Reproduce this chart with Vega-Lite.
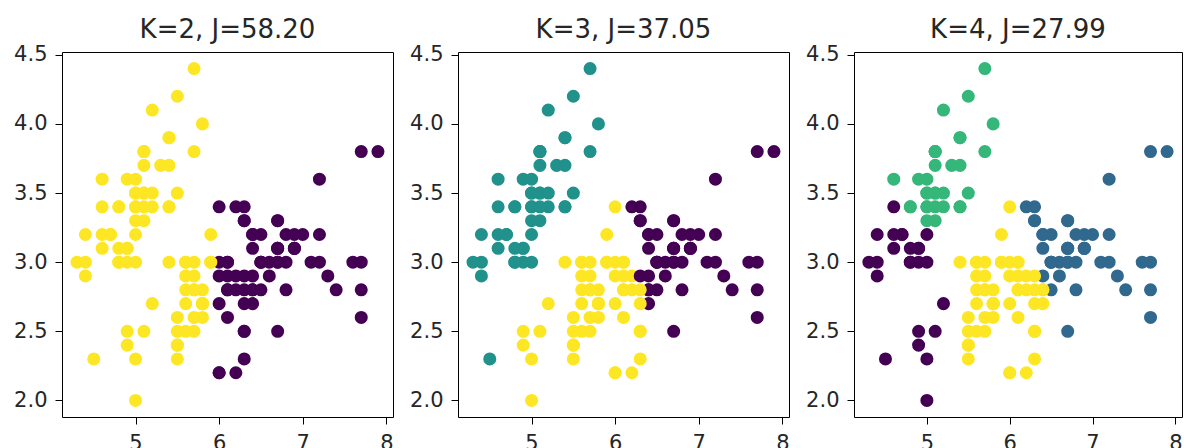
{
  "$schema": "https://vega.github.io/schema/vega-lite/v6.json",
  "padding": {"left": 13, "top": 16, "right": 0, "bottom": 0},
  "bounds": "flush",
  "spacing": 65,
  "datasets": {
    "iris": [
      {"sl":5.1,"sw":3.5,"k2":1,"k3":1,"k4":2},
      {"sl":4.9,"sw":3.0,"k2":1,"k3":1,"k4":0},
      {"sl":4.7,"sw":3.2,"k2":1,"k3":1,"k4":0},
      {"sl":4.6,"sw":3.1,"k2":1,"k3":1,"k4":0},
      {"sl":5.0,"sw":3.6,"k2":1,"k3":1,"k4":2},
      {"sl":5.4,"sw":3.9,"k2":1,"k3":1,"k4":2},
      {"sl":4.6,"sw":3.4,"k2":1,"k3":1,"k4":0},
      {"sl":5.0,"sw":3.4,"k2":1,"k3":1,"k4":2},
      {"sl":4.4,"sw":2.9,"k2":1,"k3":1,"k4":0},
      {"sl":4.9,"sw":3.1,"k2":1,"k3":1,"k4":0},
      {"sl":5.4,"sw":3.7,"k2":1,"k3":1,"k4":2},
      {"sl":4.8,"sw":3.4,"k2":1,"k3":1,"k4":2},
      {"sl":4.8,"sw":3.0,"k2":1,"k3":1,"k4":0},
      {"sl":4.3,"sw":3.0,"k2":1,"k3":1,"k4":0},
      {"sl":5.8,"sw":4.0,"k2":1,"k3":1,"k4":2},
      {"sl":5.7,"sw":4.4,"k2":1,"k3":1,"k4":2},
      {"sl":5.4,"sw":3.9,"k2":1,"k3":1,"k4":2},
      {"sl":5.1,"sw":3.5,"k2":1,"k3":1,"k4":2},
      {"sl":5.7,"sw":3.8,"k2":1,"k3":1,"k4":2},
      {"sl":5.1,"sw":3.8,"k2":1,"k3":1,"k4":2},
      {"sl":5.4,"sw":3.4,"k2":1,"k3":1,"k4":2},
      {"sl":5.1,"sw":3.7,"k2":1,"k3":1,"k4":2},
      {"sl":4.6,"sw":3.6,"k2":1,"k3":1,"k4":2},
      {"sl":5.1,"sw":3.3,"k2":1,"k3":1,"k4":2},
      {"sl":4.8,"sw":3.4,"k2":1,"k3":1,"k4":2},
      {"sl":5.0,"sw":3.0,"k2":1,"k3":1,"k4":0},
      {"sl":5.0,"sw":3.4,"k2":1,"k3":1,"k4":2},
      {"sl":5.2,"sw":3.5,"k2":1,"k3":1,"k4":2},
      {"sl":5.2,"sw":3.4,"k2":1,"k3":1,"k4":2},
      {"sl":4.7,"sw":3.2,"k2":1,"k3":1,"k4":0},
      {"sl":4.8,"sw":3.1,"k2":1,"k3":1,"k4":0},
      {"sl":5.4,"sw":3.4,"k2":1,"k3":1,"k4":2},
      {"sl":5.2,"sw":4.1,"k2":1,"k3":1,"k4":2},
      {"sl":5.5,"sw":4.2,"k2":1,"k3":1,"k4":2},
      {"sl":4.9,"sw":3.1,"k2":1,"k3":1,"k4":0},
      {"sl":5.0,"sw":3.2,"k2":1,"k3":1,"k4":0},
      {"sl":5.5,"sw":3.5,"k2":1,"k3":1,"k4":2},
      {"sl":4.9,"sw":3.6,"k2":1,"k3":1,"k4":2},
      {"sl":4.4,"sw":3.0,"k2":1,"k3":1,"k4":0},
      {"sl":5.1,"sw":3.4,"k2":1,"k3":1,"k4":2},
      {"sl":5.0,"sw":3.5,"k2":1,"k3":1,"k4":2},
      {"sl":4.5,"sw":2.3,"k2":1,"k3":1,"k4":0},
      {"sl":4.4,"sw":3.2,"k2":1,"k3":1,"k4":0},
      {"sl":5.0,"sw":3.5,"k2":1,"k3":1,"k4":2},
      {"sl":5.1,"sw":3.8,"k2":1,"k3":1,"k4":2},
      {"sl":4.8,"sw":3.0,"k2":1,"k3":1,"k4":0},
      {"sl":5.1,"sw":3.8,"k2":1,"k3":1,"k4":2},
      {"sl":4.6,"sw":3.2,"k2":1,"k3":1,"k4":0},
      {"sl":5.3,"sw":3.7,"k2":1,"k3":1,"k4":2},
      {"sl":5.0,"sw":3.3,"k2":1,"k3":1,"k4":2},
      {"sl":7.0,"sw":3.2,"k2":0,"k3":0,"k4":1},
      {"sl":6.4,"sw":3.2,"k2":0,"k3":0,"k4":1},
      {"sl":6.9,"sw":3.1,"k2":0,"k3":0,"k4":1},
      {"sl":5.5,"sw":2.3,"k2":1,"k3":2,"k4":3},
      {"sl":6.5,"sw":2.8,"k2":0,"k3":0,"k4":1},
      {"sl":5.7,"sw":2.8,"k2":1,"k3":2,"k4":3},
      {"sl":6.3,"sw":3.3,"k2":0,"k3":0,"k4":1},
      {"sl":4.9,"sw":2.4,"k2":1,"k3":2,"k4":0},
      {"sl":6.6,"sw":2.9,"k2":0,"k3":0,"k4":1},
      {"sl":5.2,"sw":2.7,"k2":1,"k3":2,"k4":0},
      {"sl":5.0,"sw":2.0,"k2":1,"k3":2,"k4":0},
      {"sl":5.9,"sw":3.0,"k2":1,"k3":2,"k4":3},
      {"sl":6.0,"sw":2.2,"k2":0,"k3":2,"k4":3},
      {"sl":6.1,"sw":2.9,"k2":0,"k3":2,"k4":3},
      {"sl":5.6,"sw":2.9,"k2":1,"k3":2,"k4":3},
      {"sl":6.7,"sw":3.1,"k2":0,"k3":0,"k4":1},
      {"sl":5.6,"sw":3.0,"k2":1,"k3":2,"k4":3},
      {"sl":5.8,"sw":2.7,"k2":1,"k3":2,"k4":3},
      {"sl":6.2,"sw":2.2,"k2":0,"k3":2,"k4":3},
      {"sl":5.6,"sw":2.5,"k2":1,"k3":2,"k4":3},
      {"sl":5.9,"sw":3.2,"k2":1,"k3":2,"k4":3},
      {"sl":6.1,"sw":2.8,"k2":0,"k3":2,"k4":3},
      {"sl":6.3,"sw":2.5,"k2":0,"k3":2,"k4":3},
      {"sl":6.1,"sw":2.8,"k2":0,"k3":2,"k4":3},
      {"sl":6.4,"sw":2.9,"k2":0,"k3":0,"k4":1},
      {"sl":6.6,"sw":3.0,"k2":0,"k3":0,"k4":1},
      {"sl":6.8,"sw":2.8,"k2":0,"k3":0,"k4":1},
      {"sl":6.7,"sw":3.0,"k2":0,"k3":0,"k4":1},
      {"sl":6.0,"sw":2.9,"k2":0,"k3":2,"k4":3},
      {"sl":5.7,"sw":2.6,"k2":1,"k3":2,"k4":3},
      {"sl":5.5,"sw":2.4,"k2":1,"k3":2,"k4":3},
      {"sl":5.5,"sw":2.4,"k2":1,"k3":2,"k4":3},
      {"sl":5.8,"sw":2.7,"k2":1,"k3":2,"k4":3},
      {"sl":6.0,"sw":2.7,"k2":0,"k3":2,"k4":3},
      {"sl":5.4,"sw":3.0,"k2":1,"k3":2,"k4":3},
      {"sl":6.0,"sw":3.4,"k2":0,"k3":2,"k4":3},
      {"sl":6.7,"sw":3.1,"k2":0,"k3":0,"k4":1},
      {"sl":6.3,"sw":2.3,"k2":0,"k3":2,"k4":3},
      {"sl":5.6,"sw":3.0,"k2":1,"k3":2,"k4":3},
      {"sl":5.5,"sw":2.5,"k2":1,"k3":2,"k4":3},
      {"sl":5.5,"sw":2.6,"k2":1,"k3":2,"k4":3},
      {"sl":6.1,"sw":3.0,"k2":0,"k3":2,"k4":3},
      {"sl":5.8,"sw":2.6,"k2":1,"k3":2,"k4":3},
      {"sl":5.0,"sw":2.3,"k2":1,"k3":2,"k4":0},
      {"sl":5.6,"sw":2.7,"k2":1,"k3":2,"k4":3},
      {"sl":5.7,"sw":3.0,"k2":1,"k3":2,"k4":3},
      {"sl":5.7,"sw":2.9,"k2":1,"k3":2,"k4":3},
      {"sl":6.2,"sw":2.9,"k2":0,"k3":2,"k4":3},
      {"sl":5.1,"sw":2.5,"k2":1,"k3":2,"k4":0},
      {"sl":5.7,"sw":2.8,"k2":1,"k3":2,"k4":3},
      {"sl":6.3,"sw":3.3,"k2":0,"k3":0,"k4":1},
      {"sl":5.8,"sw":2.7,"k2":1,"k3":2,"k4":3},
      {"sl":7.1,"sw":3.0,"k2":0,"k3":0,"k4":1},
      {"sl":6.3,"sw":2.9,"k2":0,"k3":0,"k4":3},
      {"sl":6.5,"sw":3.0,"k2":0,"k3":0,"k4":1},
      {"sl":7.6,"sw":3.0,"k2":0,"k3":0,"k4":1},
      {"sl":4.9,"sw":2.5,"k2":1,"k3":2,"k4":0},
      {"sl":7.3,"sw":2.9,"k2":0,"k3":0,"k4":1},
      {"sl":6.7,"sw":2.5,"k2":0,"k3":0,"k4":1},
      {"sl":7.2,"sw":3.6,"k2":0,"k3":0,"k4":1},
      {"sl":6.5,"sw":3.2,"k2":0,"k3":0,"k4":1},
      {"sl":6.4,"sw":2.7,"k2":0,"k3":0,"k4":3},
      {"sl":6.8,"sw":3.0,"k2":0,"k3":0,"k4":1},
      {"sl":5.7,"sw":2.5,"k2":1,"k3":2,"k4":3},
      {"sl":5.8,"sw":2.8,"k2":1,"k3":2,"k4":3},
      {"sl":6.4,"sw":3.2,"k2":0,"k3":0,"k4":1},
      {"sl":6.5,"sw":3.0,"k2":0,"k3":0,"k4":1},
      {"sl":7.7,"sw":3.8,"k2":0,"k3":0,"k4":1},
      {"sl":7.7,"sw":2.6,"k2":0,"k3":0,"k4":1},
      {"sl":6.0,"sw":2.2,"k2":0,"k3":2,"k4":3},
      {"sl":6.9,"sw":3.2,"k2":0,"k3":0,"k4":1},
      {"sl":5.6,"sw":2.8,"k2":1,"k3":2,"k4":3},
      {"sl":7.7,"sw":2.8,"k2":0,"k3":0,"k4":1},
      {"sl":6.3,"sw":2.7,"k2":0,"k3":2,"k4":3},
      {"sl":6.7,"sw":3.3,"k2":0,"k3":0,"k4":1},
      {"sl":7.2,"sw":3.2,"k2":0,"k3":0,"k4":1},
      {"sl":6.2,"sw":2.8,"k2":0,"k3":2,"k4":3},
      {"sl":6.1,"sw":3.0,"k2":0,"k3":2,"k4":3},
      {"sl":6.4,"sw":2.8,"k2":0,"k3":0,"k4":3},
      {"sl":7.2,"sw":3.0,"k2":0,"k3":0,"k4":1},
      {"sl":7.4,"sw":2.8,"k2":0,"k3":0,"k4":1},
      {"sl":7.9,"sw":3.8,"k2":0,"k3":0,"k4":1},
      {"sl":6.4,"sw":2.8,"k2":0,"k3":0,"k4":3},
      {"sl":6.3,"sw":2.8,"k2":0,"k3":2,"k4":3},
      {"sl":6.1,"sw":2.6,"k2":0,"k3":2,"k4":3},
      {"sl":7.7,"sw":3.0,"k2":0,"k3":0,"k4":1},
      {"sl":6.3,"sw":3.4,"k2":0,"k3":0,"k4":1},
      {"sl":6.4,"sw":3.1,"k2":0,"k3":0,"k4":1},
      {"sl":6.0,"sw":3.0,"k2":0,"k3":2,"k4":3},
      {"sl":6.9,"sw":3.1,"k2":0,"k3":0,"k4":1},
      {"sl":6.7,"sw":3.1,"k2":0,"k3":0,"k4":1},
      {"sl":6.9,"sw":3.1,"k2":0,"k3":0,"k4":1},
      {"sl":5.8,"sw":2.7,"k2":1,"k3":2,"k4":3},
      {"sl":6.8,"sw":3.2,"k2":0,"k3":0,"k4":1},
      {"sl":6.7,"sw":3.3,"k2":0,"k3":0,"k4":1},
      {"sl":6.7,"sw":3.0,"k2":0,"k3":0,"k4":1},
      {"sl":6.3,"sw":2.5,"k2":0,"k3":2,"k4":3},
      {"sl":6.5,"sw":3.0,"k2":0,"k3":0,"k4":1},
      {"sl":6.2,"sw":3.4,"k2":0,"k3":0,"k4":1},
      {"sl":5.9,"sw":3.0,"k2":1,"k3":2,"k4":3}
    ]
  },
  "data": {"name": "iris"},
  "hconcat": [
    {
      "title": "K=2, J=58.20",
      "width": 331, "height": 365,
      "mark": {"type": "point", "filled": true, "size": 170, "opacity": 1},
      "encoding": {
        "x": {"field": "sl", "type": "quantitative", "scale": {"domain": [4.12, 8.08], "nice": false, "zero": false}, "axis": {"values": [5, 6, 7, 8], "format": "d"}},
        "y": {"field": "sw", "type": "quantitative", "scale": {"domain": [1.88, 4.52], "nice": false, "zero": false}, "axis": {"values": [2.0, 2.5, 3.0, 3.5, 4.0, 4.5], "format": ".1f"}},
        "color": {"field": "k2", "type": "nominal", "scale": {"domain": [0, 1], "range": ["#440154", "#fde725"]}, "legend": null}
      }
    },
    {
      "title": "K=3, J=37.05",
      "width": 331, "height": 365,
      "mark": {"type": "point", "filled": true, "size": 170, "opacity": 1},
      "encoding": {
        "x": {"field": "sl", "type": "quantitative", "scale": {"domain": [4.12, 8.08], "nice": false, "zero": false}, "axis": {"values": [5, 6, 7, 8], "format": "d"}},
        "y": {"field": "sw", "type": "quantitative", "scale": {"domain": [1.88, 4.52], "nice": false, "zero": false}, "axis": {"values": [2.0, 2.5, 3.0, 3.5, 4.0, 4.5], "format": ".1f"}},
        "color": {"field": "k3", "type": "nominal", "scale": {"domain": [0, 1, 2], "range": ["#440154", "#21918c", "#fde725"]}, "legend": null}
      }
    },
    {
      "title": "K=4, J=27.99",
      "width": 328, "height": 365,
      "mark": {"type": "point", "filled": true, "size": 170, "opacity": 1},
      "encoding": {
        "x": {"field": "sl", "type": "quantitative", "scale": {"domain": [4.12, 8.08], "nice": false, "zero": false}, "axis": {"values": [5, 6, 7, 8], "format": "d"}},
        "y": {"field": "sw", "type": "quantitative", "scale": {"domain": [1.88, 4.52], "nice": false, "zero": false}, "axis": {"values": [2.0, 2.5, 3.0, 3.5, 4.0, 4.5], "format": ".1f"}},
        "color": {"field": "k4", "type": "nominal", "scale": {"domain": [0, 1, 2, 3], "range": ["#440154", "#31688e", "#35b779", "#fde725"]}, "legend": null}
      }
    }
  ],
  "resolve": {"scale": {"color": "independent", "x": "independent", "y": "independent"}},
  "config": {
    "font": "DejaVu Sans",
    "background": "white",
    "view": {"stroke": "#000000", "strokeWidth": 1},
    "axis": {
      "domain": false,
      "grid": false,
      "ticks": true,
      "tickColor": "#000000",
      "tickSize": 7,
      "tickWidth": 1,
      "labelFont": "DejaVu Sans",
      "labelFontSize": 21,
      "labelColor": "#262626",
      "labelPadding": 8,
      "title": null
    },
    "title": {"font": "DejaVu Sans", "fontSize": 26, "fontWeight": "normal", "color": "#262626", "offset": 1, "anchor": "middle"}
  }
}
